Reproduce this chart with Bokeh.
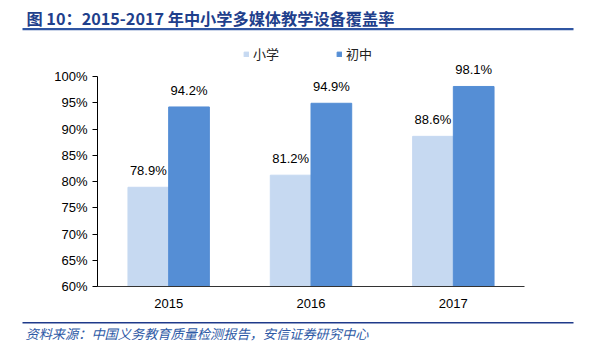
from bokeh.plotting import figure
from bokeh.layouts import column
from bokeh.core.properties import value
from bokeh.models import (FactorRange, Range1d, FixedTicker, NumeralTickFormatter,
                          Label, BoxAnnotation, Legend, LegendItem, ColumnDataSource, LabelSet)
from bokeh.transform import dodge
from bokeh.embed import file_html
from bokeh.resources import INLINE

years = ["2015", "2016", "2017"]
primary = [0.789, 0.812, 0.886]
junior = [0.942, 0.949, 0.981]
series_names = ["小学", "初中"]
y_ticks = [0.60, 0.65, 0.70, 0.75, 0.80, 0.85, 0.90, 0.95, 1.00]
title_text = "图 10：2015-2017 年中小学多媒体教学设备覆盖率"
source_text = "资料来源：中国义务教育质量检测报告，安信证券研究中心"

W = 581
TOP_H, MAIN_H, BOT_H = 36, 276, 30
NAVY = "#1F3F8C"
light = "#C6D9F1"
dark = "#558ED5"


def blank_fig(h):
    f = figure(width=W, height=h, x_range=Range1d(0, W), y_range=Range1d(0, h),
               x_axis_type=None, y_axis_type=None, output_backend="svg", toolbar_location=None,
               min_border_left=0, min_border_right=0, min_border_top=0, min_border_bottom=0,
               frame_align=False)
    f.outline_line_color = None
    f.grid.visible = False
    return f


def hrule(f, y_top, thick, left, right, color):
    f.add_layout(BoxAnnotation(left=left, right=right, top=y_top, bottom=y_top - thick,
                               left_units="screen", right_units="screen", top_units="screen",
                               bottom_units="screen", fill_color=color, fill_alpha=1,
                               line_color=None))


# --- title strip ---
top = blank_fig(TOP_H)
top.add_layout(Label(x=26, y=TOP_H - 17, x_units="screen", y_units="screen", text=title_text,
                     text_font="Noto Sans CJK SC", text_font_style="bold", text_font_size="16.2px",
                     text_color=NAVY, text_baseline="middle"))
hrule(top, TOP_H - 27.5, 2.2, 22, 573, "#2F55A2")

# --- main chart ---
src = ColumnDataSource(dict(
    years=years, primary=primary, junior=junior,
    plab=[f"{v*100:.1f}%" for v in primary],
    jlab=[f"{v*100:.1f}%" for v in junior],
))

p = figure(width=W, height=MAIN_H, x_range=FactorRange(*years, range_padding=0),
           y_range=Range1d(0.6, 1.0762), output_backend="svg", toolbar_location=None,
           min_border_left=97, min_border_right=57, min_border_top=0, min_border_bottom=26,
           frame_align=False)
p.outline_line_color = None
p.grid.visible = False

r1 = p.vbar(x=dodge("years", -0.143, range=p.x_range), top="primary", bottom=0.6,
            width=0.286, source=src, color=light)
r2 = p.vbar(x=dodge("years", 0.143, range=p.x_range), top="junior", bottom=0.6,
            width=0.286, source=src, color=dark)

for col, ycol, off in (("plab", "primary", -0.143), ("jlab", "junior", 0.143)):
    p.add_layout(LabelSet(x=dodge("years", off, range=p.x_range), y=ycol, text=col, source=src,
                          text_align="center", text_baseline="bottom", y_offset=9,
                          text_font=value("Liberation Sans"), text_font_size=value("13px"),
                          text_color="#000000"))

p.yaxis.bounds = (0.6, 1.0)
p.yaxis.ticker = FixedTicker(ticks=y_ticks)
p.yaxis.formatter = NumeralTickFormatter(format="0%")
p.yaxis.minor_tick_line_color = None
p.yaxis.major_tick_out = 5
p.yaxis.major_tick_in = 0
p.yaxis.axis_line_color = "black"
p.yaxis.major_tick_line_color = "black"
p.yaxis.major_label_standoff = 5
p.yaxis.major_label_text_font = "Liberation Sans"
p.yaxis.major_label_text_font_size = "13px"
p.yaxis.major_label_text_color = "black"
p.xaxis.major_tick_line_color = None
p.xaxis.minor_tick_line_color = None
p.xaxis.axis_line_color = "#333333"
p.xaxis.major_label_text_font = "Liberation Sans"
p.xaxis.major_label_text_font_size = "13px"
p.xaxis.major_label_text_color = "black"
p.xaxis.major_label_standoff = 6

legend = Legend(items=[LegendItem(label=series_names[0], renderers=[r1]),
                       LegendItem(label=series_names[1], renderers=[r2])],
                orientation="horizontal", location=(146, 223), border_line_color=None,
                background_fill_alpha=0, glyph_width=6, glyph_height=6, label_height=16,
                spacing=57, label_text_font="Noto Sans CJK SC", label_text_font_size="13px",
                label_text_color="#222222", padding=0, margin=0, label_standoff=4)
p.add_layout(legend, "center")

# --- source strip ---
bot = blank_fig(BOT_H)
hrule(bot, BOT_H - 9.5, 1.6, 22, 573, "#1F3A8A")
bot.add_layout(Label(x=25, y=BOT_H - 21, x_units="screen", y_units="screen", text=source_text,
                     text_font="Noto Sans CJK SC", text_font_style="italic", text_font_size="13.2px",
                     text_color="#2E5AA6", text_baseline="middle"))

layout = column(top, p, bot, spacing=0)
open("out.html", "w").write(file_html(layout, INLINE))
